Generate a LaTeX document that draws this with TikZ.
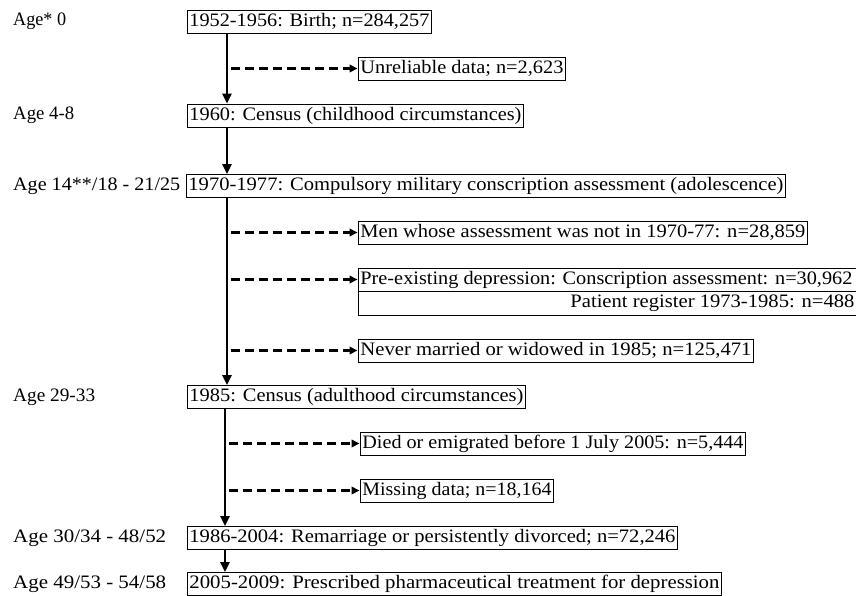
\documentclass[tikz,border=0pt]{standalone}
\usepackage{fontspec}
\usepackage{graphicx}
\setmainfont{Liberation Serif}
\usetikzlibrary{arrows.meta}
% fit text to a given width, keep its height
\newcommand{\fitw}[2]{\resizebox{#1pt}{\height}{#2}}
\newcommand{\bxl}[3]{\makebox[\dimexpr#1pt-4pt\relax][l]{\fitw{#2}{#3}}}
\newcommand{\bxr}[3]{\makebox[\dimexpr#1pt-4pt\relax][r]{\fitw{#2}{#3}}}
\tikzset{
  box/.style={draw, line width=0.9pt, inner xsep=2pt, inner ysep=0pt,
    minimum height=23pt, anchor=west, font=\fontsize{19}{22}\selectfont},
  agelbl/.style={anchor=west, inner sep=0pt, font=\fontsize{19}{22}\selectfont},
  mainarrow/.style={line width=2.8pt, -{Triangle[length=10pt,width=9pt]}},
  dasharrow/.style={line width=2.8pt, dash pattern=on 9pt off 5pt,
    -{Triangle[length=8pt,width=7.5pt]}, shorten >=0.5pt}
}
\begin{document}
\begin{tikzpicture}[x=1pt,y=-1pt]
\useasboundingbox (0,0) rectangle (856,595);
% age labels
\node[agelbl] (a1) at (13,21.5) {\fitw{53}{Age* 0}};
\node[agelbl] (a2) at (13,115.5) {\fitw{61}{Age 4-8}};
\node[agelbl] (a3) at (13,186) {\fitw{167}{Age 14**/18 - 21/25}};
\node[agelbl] (a4) at (13,397) {\fitw{82}{Age 29-33}};
\node[agelbl] (a5) at (13,538) {\fitw{153}{Age 30/34 - 48/52}};
\node[agelbl] (a6) at (13,584) {\fitw{153}{Age 49/53 - 54/58}};
% main boxes
\node[box] (b1) at (187,21.5) {\bxl{244}{240}{1952-1956: Birth; n=284,257}};
\node[box] (b2) at (187,115.5) {\bxl{336}{332}{1960: Census (childhood circumstances)}};
\node[box] (b3) at (186,186) {\bxl{599}{595}{1970-1977: Compulsory military conscription assessment (adolescence)}};
\node[box] (b4) at (187,397) {\bxl{338}{334}{1985: Census (adulthood circumstances)}};
\node[box] (b5) at (187,538) {\bxl{490}{486}{1986-2004: Remarriage or persistently divorced; n=72,246}};
\node[box] (b6) at (187,584) {\bxl{534}{530}{2005-2009: Prescribed pharmaceutical treatment for depression}};
% exclusion boxes
\node[box] (e1) at (358,68.5) {\bxl{207}{203}{Unreliable data; n=2,623}};
\node[box] (e2) at (358,232.5) {\bxl{449}{445}{Men whose assessment was not in 1970-77: n=28,859}};
\node[box] (e3) at (358,279.5) {\bxl{498}{492}{Pre-existing depression: Conscription assessment: n=30,962}};
\node[box, minimum height=24pt] (e4) at (358,303) {\bxr{498}{284}{Patient register 1973-1985: n=488}};
\node[box] (e5) at (358,350.5) {\bxl{395}{391}{Never married or widowed in 1985; n=125,471}};
\node[box] (e6) at (360,443.5) {\bxl{385}{381}{Died or emigrated before 1 July 2005: n=5,444}};
\node[box] (e7) at (360,490.5) {\bxl{193}{189}{Missing data; n=18,164}};
% spine coordinates
\coordinate (s1) at (227,0);
\coordinate (s2) at (225,0);
\coordinate (d1) at (231,0);
\coordinate (d2) at (229,0);
% main arrows
\draw[mainarrow] (b1.south -| s1) -- (b2.north -| s1);
\draw[mainarrow] (b2.south -| s1) -- (b3.north -| s1);
\draw[mainarrow] (b3.south -| s1) -- (b4.north -| s1);
\draw[mainarrow] (b4.south -| s2) -- (b5.north -| s2);
\draw[mainarrow] (b5.south -| s2) -- (b6.north -| s2);
% exclusion arrows
\draw[dasharrow] (e1.west -| d1) -- (e1.west);
\draw[dasharrow] (e2.west -| d1) -- (e2.west);
\draw[dasharrow] (e3.west -| d1) -- (e3.west);
\draw[dasharrow] (e5.west -| d1) -- (e5.west);
\draw[dasharrow] (e6.west -| d2) -- (e6.west);
\draw[dasharrow] (e7.west -| d2) -- (e7.west);
\end{tikzpicture}
\end{document}
